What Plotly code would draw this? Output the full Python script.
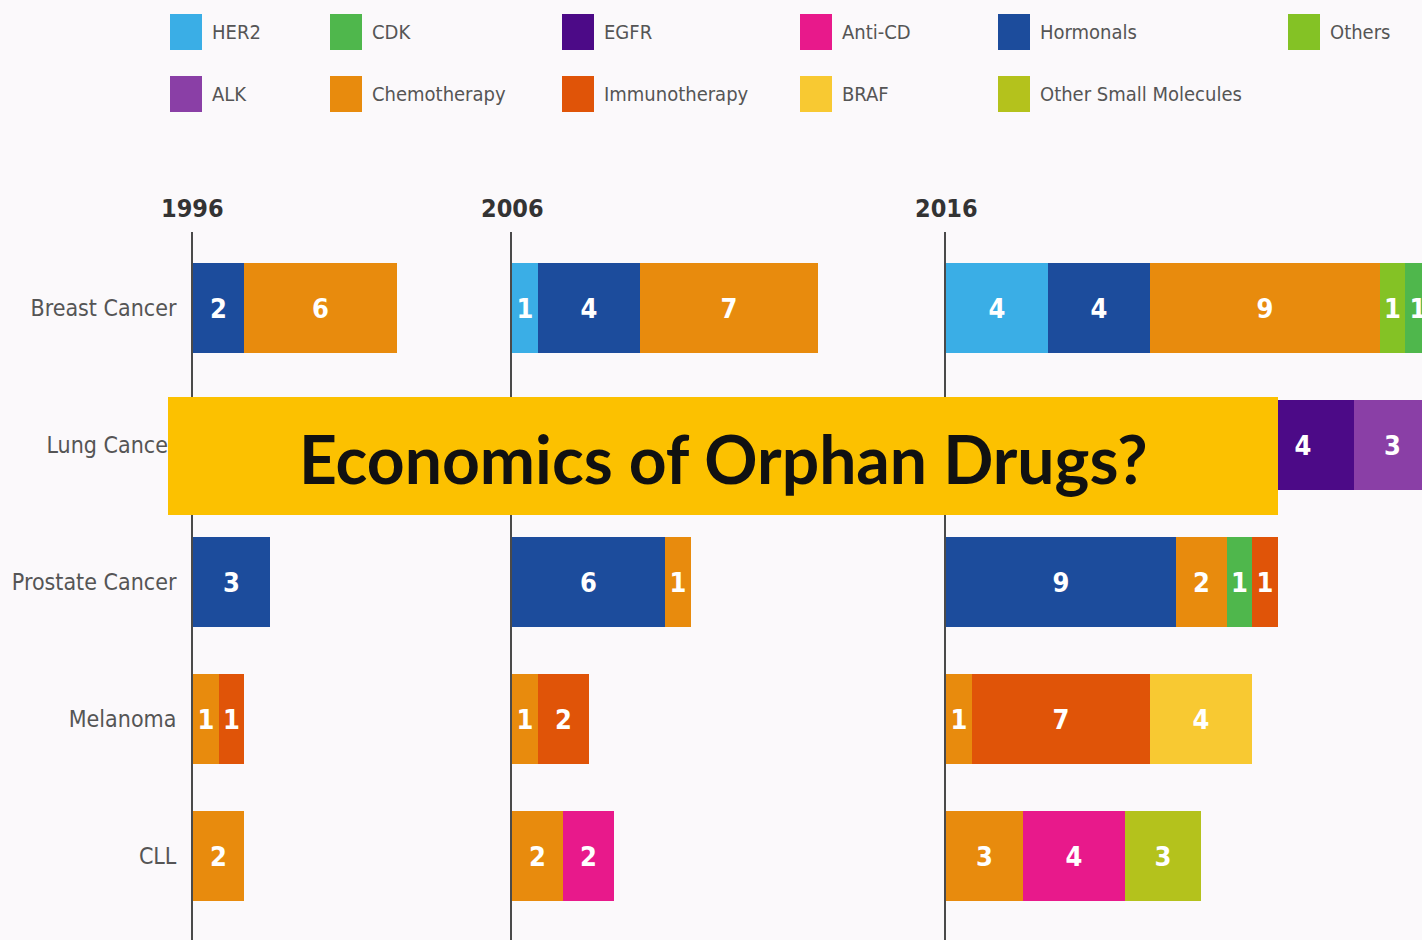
import plotly.graph_objects as go

# ---- data -------------------------------------------------------------
cancers = ["Breast Cancer", "Lung Cancer", "Prostate Cancer", "Melanoma", "CLL"]
years = ["1996", "2006", "2016"]

# stacking order of the drug classes inside each bar
stack_order = ["HER2", "Hormonals", "Chemotherapy", "Others", "CDK", "Immunotherapy",
               "BRAF", "Anti-CD", "Other Small Molecules", "EGFR", "ALK"]

colors = {
    "HER2": "#3aaee6",
    "CDK": "#4fb74c",
    "EGFR": "#4c0a87",
    "Anti-CD": "#e8198b",
    "Hormonals": "#1c4c9c",
    "Others": "#84c225",
    "ALK": "#8a3fa6",
    "Chemotherapy": "#e88b0d",
    "Immunotherapy": "#e05408",
    "BRAF": "#f8c932",
    "Other Small Molecules": "#b4c21c",
}

# approved drugs per class, values follow the order of `cancers`
counts_1996 = {
    "Hormonals":     [2, None, 3, None, None],
    "Chemotherapy":  [6, 4, None, 1, 2],
    "Immunotherapy": [None, None, None, 1, None],
}
counts_2006 = {
    "HER2":          [1, None, None, None, None],
    "Hormonals":     [4, None, 6, None, None],
    "Chemotherapy":  [7, 7, 1, 1, 2],
    "Immunotherapy": [None, None, None, 2, None],
    "Anti-CD":       [None, None, None, None, 2],
    "EGFR":          [None, 2, None, None, None],
}
counts_2016 = {
    "HER2":                  [4, None, None, None, None],
    "Hormonals":             [4, None, 9, None, None],
    "Chemotherapy":          [9, 7, 2, 1, 3],
    "Others":                [1, None, None, None, None],
    "CDK":                   [1, None, 1, None, None],
    "Immunotherapy":         [None, 5, 1, 7, None],
    "BRAF":                  [None, None, None, 4, None],
    "Anti-CD":               [None, None, None, None, 4],
    "Other Small Molecules": [None, None, None, None, 3],
    "EGFR":                  [None, 4, None, None, None],
    "ALK":                   [None, 3, None, None, None],
}

legend_rows = [
    ["HER2", "CDK", "EGFR", "Anti-CD", "Hormonals", "Others"],
    ["ALK", "Chemotherapy", "Immunotherapy", "BRAF", "Other Small Molecules"],
]

banner_text = "Economics of Orphan Drugs?"

# ---- layout helpers ---------------------------------------------------
W, H = 1422, 940
PX_PER_UNIT = 25.5
NARROW = "DejaVu Sans Condensed, Liberation Sans Narrow, Arial Narrow, sans-serif"
BG = "#fbf9fb"

# banner box in pixels (left, right, top, bottom)
BANNER = (168, 1278, 397, 515)


def fx(p):
    return p / W


def fy(p):
    return 1 - p / H


panel_left = [193, 512, 946]
panel_right = [490, 930, 1422]
panel_counts = [counts_1996, counts_2006, counts_2016]

fig = go.Figure()

for i, counts in enumerate(panel_counts):
    xa = "x" if i == 0 else f"x{i + 1}"
    ya = "y" if i == 0 else f"y{i + 1}"
    running = [0.0] * len(cancers)
    for cls in stack_order:
        if cls not in counts:
            continue
        vals = counts[cls]
        labels = []
        for k, v in enumerate(vals):
            if not v:
                labels.append("")
                continue
            end_px = panel_left[i] + (running[k] + v) * PX_PER_UNIT
            running[k] += v
            # segments lying wholly behind the banner carry no label
            covered = cancers[k] == "Lung Cancer" and end_px <= BANNER[1] + 1
            labels.append("" if covered else str(v))
        fig.add_trace(go.Bar(
            x=vals, y=cancers, orientation="h",
            xaxis=xa, yaxis=ya,
            marker=dict(color=colors[cls], line=dict(width=0)),
            text=labels,
            textposition="inside", insidetextanchor="middle",
            constraintext="none", textangle=0,
            textfont=dict(family=NARROW, size=27, color="white", weight="bold"),
            width=0.65, name=cls, showlegend=False, hoverinfo="skip",
        ))

# rows: first category centred at 308 px, 137 px apart, axis from 232 px to bottom
row0, row_gap, y_top, y_bot = 308, 137, 232, 940
y_range = [(y_bot - row0) / row_gap, -(row0 - y_top) / row_gap]

layout_axes = {}
for i in range(3):
    sx = "" if i == 0 else str(i + 1)
    span = panel_right[i] - panel_left[i]
    layout_axes[f"xaxis{sx}"] = dict(
        domain=[fx(panel_left[i]), fx(panel_right[i])],
        range=[0, span / PX_PER_UNIT],
        anchor=f"y{sx}", visible=False, fixedrange=True,
    )
    layout_axes[f"yaxis{sx}"] = dict(
        domain=[fy(y_bot), fy(y_top)],
        range=y_range, anchor=f"x{sx}",
        type="category", categoryorder="array", categoryarray=cancers,
        showline=True, linecolor="#4a4a4a", linewidth=2,
        showgrid=False, zeroline=False, ticks="",
        showticklabels=(i == 0), ticklabelstandoff=10,
        tickfont=dict(family=NARROW, size=23, color="#555555"),
    )

annotations = []
shapes = []

# year headings above each panel
for i, yr in enumerate(years):
    annotations.append(dict(
        x=fx(panel_left[i]), y=fy(208), xref="paper", yref="paper",
        text=yr, showarrow=False, xanchor="center", yanchor="middle",
        font=dict(family=NARROW, size=25, color="#333333", weight="bold"),
    ))

# legend swatches and labels
legend_cols = [170, 330, 562, 800, 998, 1288]
legend_row_y = [32, 94]
for r, row in enumerate(legend_rows):
    for c, cls in enumerate(row):
        x0 = legend_cols[c]
        yc = legend_row_y[r]
        shapes.append(dict(
            type="rect", xref="paper", yref="paper",
            x0=fx(x0), x1=fx(x0 + 32), y0=fy(yc + 18), y1=fy(yc - 18),
            fillcolor=colors[cls], line=dict(width=0), layer="above",
        ))
        annotations.append(dict(
            x=fx(x0 + 40), y=fy(yc), xref="paper", yref="paper",
            text=cls, showarrow=False, xanchor="left", yanchor="middle",
            font=dict(family=NARROW, size=20, color="#555555"),
        ))

# banner across the lung cancer row
shapes.append(dict(
    type="rect", xref="paper", yref="paper",
    x0=fx(BANNER[0]), x1=fx(BANNER[1]), y0=fy(BANNER[3]), y1=fy(BANNER[2]),
    fillcolor="#fcc100", line=dict(width=0), layer="above",
))
annotations.append(dict(
    x=fx(723), y=fy(458), xref="paper", yref="paper",
    text=banner_text, showarrow=False, xanchor="center", yanchor="middle",
    font=dict(family="Lato, Open Sans, sans-serif", size=66, color="#111111", weight="bold"),
))

fig.update_layout(
    width=W, height=H,
    margin=dict(l=0, r=0, t=0, b=0),
    paper_bgcolor=BG, plot_bgcolor=BG,
    barmode="stack", bargap=0,
    shapes=shapes, annotations=annotations,
    **layout_axes,
)

fig.write_html("out.html", config={"displayModeBar": False})
